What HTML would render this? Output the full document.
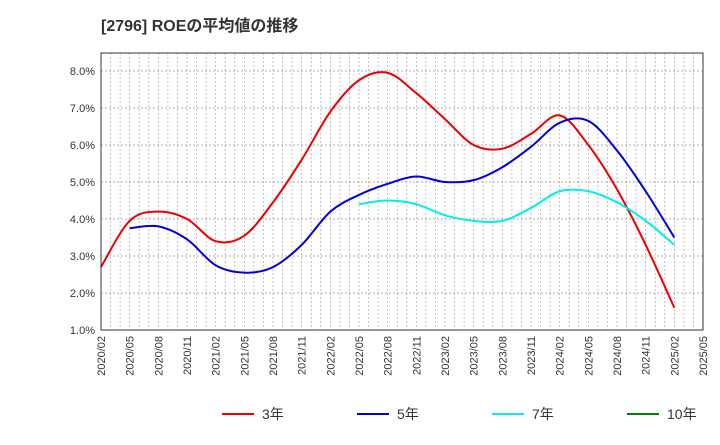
<!DOCTYPE html>
<html><head><meta charset="utf-8">
<style>
body{margin:0;background:#fff;font-family:"Liberation Sans","Noto Sans CJK JP",sans-serif;}
</style></head>
<body>
<svg width="720" height="440" viewBox="0 0 720 440" xmlns="http://www.w3.org/2000/svg" style="font-family:'Liberation Sans','Noto Sans CJK JP',sans-serif">
<text x="101" y="31" font-size="16" font-weight="bold" fill="#333">[2796]  ROEの平均値の推移</text>
<g id="grid"></g>
<g id="yt"></g>
<g id="xt"></g>
<g id="series"></g>
<rect x="101" y="53" width="602" height="277" fill="none" stroke="#333" stroke-width="1"/>
<g id="legend"></g>
</svg>
<script>
const xLabels=["2020/02","2020/05","2020/08","2020/11","2021/02","2021/05","2021/08","2021/11","2022/02","2022/05","2022/08","2022/11","2023/02","2023/05","2023/08","2023/11","2024/02","2024/05","2024/08","2024/11","2025/02","2025/05"];
const yTicks=[1,2,3,4,5,6,7,8];
const s3=[2.7,3.95,4.2,4.0,3.4,3.55,4.45,5.6,6.9,7.75,7.95,7.4,6.7,6.0,5.9,6.3,6.8,6.0,4.8,3.3,1.6];
const s5=[null,3.75,3.8,3.45,2.75,2.55,2.7,3.3,4.2,4.65,4.95,5.15,5.0,5.05,5.4,5.95,6.6,6.65,5.85,4.75,3.5];
const s7=[null,null,null,null,null,null,null,null,null,4.4,4.5,4.4,4.1,3.95,3.95,4.3,4.75,4.75,4.45,3.95,3.3];
const s10=[];
const X0=101,X1=703,Y0=330,Y1=53;
const xs=i=>X0+i*(X1-X0)/21;
const ys=v=>Y0-(v-1)*37;
const NS="http://www.w3.org/2000/svg";
function mk(t,a,p){const e=document.createElementNS(NS,t);for(const k in a)e.setAttribute(k,a[k]);p.appendChild(e);return e;}
const grid=document.getElementById('grid');
for(let m=1;m<63;m++){const x=X0+m*(X1-X0)/63;
const l=mk('line',{x1:x,x2:x,y1:Y1,y2:Y0,stroke:'#aaa','stroke-width':0.7,'stroke-dasharray':'2,2'},grid);

}
const yt=document.getElementById('yt');
yTicks.forEach(v=>{const y=ys(v);
if(v>1){const l=mk('line',{x1:X0,x2:X1,y1:y,y2:y,stroke:'#999','stroke-width':0.7,'stroke-dasharray':'2,2'},grid);

}
const t=mk('text',{x:X0-6,y:y+4,'font-size':11,'text-anchor':'end',fill:'#333'},yt);t.textContent=v.toFixed(1)+'%';

});
const xt=document.getElementById('xt');
xLabels.forEach((s,i)=>{const x=xs(i);
const t=mk('text',{x:x+4,y:Y0+6,'font-size':11,'text-anchor':'end',fill:'#333',transform:`rotate(-90 ${x+4} ${Y0+6})`},xt);t.textContent=s;

});
function path(arr){const pts=[];arr.forEach((v,i)=>{if(v!=null)pts.push([xs(i),ys(v)]);});
if(pts.length<2)return '';let d=`M${pts[0][0]},${pts[0][1]}`;
for(let i=0;i<pts.length-1;i++){const p0=pts[i-1]||pts[i],p1=pts[i],p2=pts[i+1],p3=pts[i+2]||p2;
d+=` C${p1[0]+(p2[0]-p0[0])/6},${p1[1]+(p2[1]-p0[1])/6} ${p2[0]-(p3[0]-p1[0])/6},${p2[1]-(p3[1]-p1[1])/6} ${p2[0]},${p2[1]}`;}
return d;}
const ser=document.getElementById('series');
[[s3,'#ee0000','line-3yr'],[s5,'#0000dd','line-5yr'],[s7,'#00eeee','line-7yr'],[s10,'#008000','line-10yr']].forEach(([a,c,n])=>{
const d=path(a);if(!d)return;const p=mk('path',{d:d,fill:'none',stroke:c,'stroke-width':2},ser);

});
const lg=document.getElementById('legend');
[['3年','#ee0000',222],['5年','#0000dd',357],['7年','#00eeee',492],['10年','#008000',627]].forEach(([s,c,x])=>{
const g=mk('g',{},lg);


mk('line',{x1:x,x2:x+32,y1:414,y2:414,stroke:c,'stroke-width':2},g);
const t=mk('text',{x:x+40,y:419,'font-size':14,fill:'#333'},g);t.textContent=s;});
</script>
</body></html>
